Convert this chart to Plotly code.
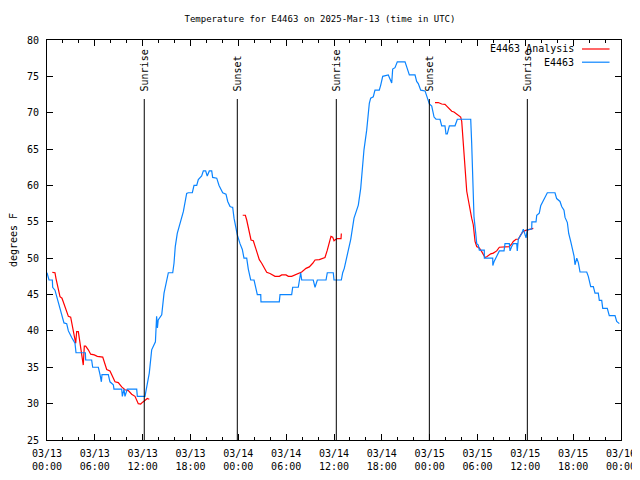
import pandas as pd
import plotly.graph_objects as go

START = pd.Timestamp("2025-03-13 00:00")

# Observed temperature E4463 (hours since 03/13 00:00 UTC, deg F)
obs_hours = [0.0, 0.25, 0.67, 0.71, 1.0, 1.84, 2.13, 2.47, 2.68, 3.1, 3.51, 3.64, 4.81, 4.85, 5.6, 5.73,
             6.44, 6.65, 6.82, 6.9, 7.69, 7.9, 8.32, 8.4, 9.37, 9.45, 9.66, 9.78, 10.07, 11.25, 11.33, 12.29,
             12.5, 12.83, 13.13, 13.42, 13.6, 13.75, 13.85, 13.95, 14.39, 14.68, 15.01, 15.22, 15.77, 15.93,
             16.09, 16.34, 17.1, 17.52, 17.72, 18.23, 18.44, 18.78, 18.98, 19.4, 19.61, 19.9, 20.1, 20.36,
             20.66, 20.78, 21.29, 21.58, 22.04, 22.45, 22.67, 22.96, 23.17, 23.29, 23.46, 23.71, 23.87, 24.21,
             24.5, 24.71, 25.05, 25.25, 25.55, 25.97, 26.22, 26.38, 26.81, 26.84, 29.14, 29.23, 30.69, 30.82,
             31.52, 31.65, 31.82, 31.95, 33.4, 33.62, 33.91, 35.0, 35.16, 35.91, 36.0, 36.92, 37.09, 37.29,
             37.51, 37.8, 38.1, 38.51, 38.76, 39.05, 39.35, 39.48, 39.76, 40.1, 40.43, 40.6, 40.93, 41.14,
             41.68, 41.86, 42.11, 42.81, 43.03, 43.24, 43.36, 43.65, 43.94, 44.91, 45.12, 45.45, 46.16, 46.37,
             46.57, 46.88, 47.42, 47.63, 47.96, 48.26, 48.55, 48.8, 49.3, 49.51, 49.92, 50.05, 50.21, 50.47,
             51.18, 51.47, 53.15, 53.27, 53.4, 53.56, 53.78, 53.9, 54.1, 54.23, 54.85, 54.86, 55.91, 55.92,
             56.07, 56.32, 56.49, 56.74, 57.33, 57.45, 57.99, 58.08, 58.29, 58.49, 58.92, 58.99, 59.12, 59.55,
             59.75, 59.96, 60.09, 60.25, 60.8, 60.82, 61.34, 61.43, 61.75, 61.93, 62.26, 62.76, 63.72, 63.93,
             64.35, 64.56, 64.85, 64.98, 65.27, 65.44, 65.69, 65.94, 66.11, 66.23, 66.45, 66.65, 66.86, 67.7,
             67.9, 68.2, 68.53, 68.74, 69.15, 69.28, 69.58, 69.71, 70.28, 70.53, 71.25, 71.46, 71.79]
obs_temp = [48, 47, 47, 46, 45.6, 42, 41.1, 41, 40, 39.1, 38.3, 37, 37, 36, 36, 35,
            35, 34, 33, 34, 34, 33, 32.6, 32, 32, 31, 32, 31, 32, 32, 31, 31,
            32.3, 34.2, 37.4, 38, 38.5, 42, 40.4, 41.5, 42.2, 45.2, 47, 48, 48, 49.3,
            51.6, 53.4, 56.4, 58.9, 59, 59, 60, 60, 60.8, 61.3, 62, 62, 61.3, 62,
            62, 61.1, 61, 60, 59, 58.8, 57.8, 57.1, 57, 57, 55.5, 54.1, 53.2, 52,
            51.2, 50, 50, 48.5, 47, 47, 46, 45, 45, 44, 44, 45, 45, 46,
            46, 47, 48, 47, 47, 46, 47, 47, 48, 48, 47, 47, 48, 48.6,
            49.8, 50.9, 52.6, 55.5, 56.3, 57.3, 59.6, 61.7, 64.9, 67.6, 71.3, 72, 72.2, 73.1,
            73.1, 73.8, 75, 75.2, 74.6, 74.1, 76, 76.2, 77, 77, 76.3, 75.2, 75.2, 74.3,
            74, 73.1, 73, 72.4, 71.2, 70.9, 69.4, 69.1, 69.1, 68.2, 68.2, 67.1, 67.1, 68.2,
            68.2, 69.1, 69.1, 65.8, 59.1, 55.7, 53.4, 52.0, 51.8, 51.1, 51.1, 50, 50, 49,
            49.5, 50, 50.5, 51, 51, 52, 52, 51, 51.6, 52, 52, 51, 52.6, 53.4,
            54, 53.4, 52.8, 53.9, 54, 55, 55, 55.9, 56.2, 57.2, 58, 59, 59, 58.2,
            57.8, 57.1, 56.6, 55.6, 54.9, 53.4, 52.3, 51.1, 50.3, 49.1, 50, 49.4, 48.1, 48.1,
            47.5, 46.1, 46.1, 45.2, 45.2, 44.2, 44.2, 43.1, 43.1, 42.1, 42.1, 41.3, 41]

# Analysis temperature (three segments, None = gap)
ana_hours = [0.67, 1.0, 1.13, 1.42, 1.63, 1.88, 2.13, 2.47, 2.68, 2.97, 3.14, 3.3, 3.43, 3.6, 3.72, 3.93,
             4.05, 4.23, 4.35, 4.48, 4.55, 4.68, 4.85, 5.18, 5.48, 5.93, 6.31, 6.99, 7.28, 7.49, 7.9, 8.24,
             8.53, 8.94, 9.37, 9.78, 10.2, 10.62, 11.04, 11.45, 11.75, 12.0, 12.29, 12.58, 12.83, 18.0,
             24.55, 24.88, 25.05, 25.25, 25.38, 25.59, 25.88, 26.09, 26.3, 26.63, 26.93, 27.35, 27.56, 27.97,
             28.39, 28.6, 29.14, 29.44, 29.98, 30.27, 30.69, 31.11, 31.52, 31.95, 32.49, 32.9, 33.33, 33.62,
             34.16, 34.87, 35.16, 35.41, 35.62, 35.84, 36.0, 36.25, 36.42, 36.88, 36.92, 42.0,
             48.67, 49.08, 49.51, 49.92, 50.14, 50.47, 50.77, 51.05, 51.39, 51.72, 51.89, 52.02, 52.15, 52.31,
             52.43, 52.65, 52.85, 53.06, 53.27, 53.47, 53.56, 53.69, 53.9, 54.23, 54.53, 54.73, 54.94, 55.16,
             55.66, 55.98, 56.41, 56.74, 57.74, 57.99, 58.29, 58.49, 58.83, 59.12, 59.42, 59.67, 59.96, 60.25,
             60.8, 61.0]
ana_temp = [48.06, 48, 47.2, 45.9, 44.7, 44.5, 43.7, 42.6, 42, 41.9, 40.8, 39.7, 39, 38.3, 39.9, 39.9,
            39, 37.7, 36.5, 35.8, 35.3, 37.9, 37.9, 37.4, 36.8, 36.7, 36.5, 36.4, 35.5, 34.7, 34.5, 33.7,
            33, 32.9, 32.3, 31.9, 31.8, 31.3, 31, 30, 29.95, 30.2, 30.4, 30.7, 30.6, None,
            55.9, 55.9, 55.25, 54.3, 53.4, 52.5, 52.4, 51.7, 50.9, 49.8, 49.3, 48.5, 48.06, 47.9,
            47.7, 47.5, 47.5, 47.7, 47.7, 47.5, 47.5, 47.7, 47.9, 48.1, 48.6, 48.8, 49.3, 49.75,
            49.8, 50.1, 51.1, 52.3, 53, 52.9, 52.4, 52.6, 52.7, 52.7, 53.4, None,
            71.4, 71.4, 71.2, 71.15, 70.9, 70.5, 70.2, 70.1, 69.8, 69.5, 69.4, 68.8, 66.7, 64.9,
            62.8, 59.2, 58, 56.6, 55.5, 54.6, 53.4, 52.3, 51.6, 51.4, 50.9, 50.4, 50.1, 50.2,
            50.6, 50.7, 51, 51.5, 51.5, 51.6, 51.95, 52.3, 52.6, 52.6, 53.2, 53.6, 53.8, 53.9,
            54, 54.1]

sun_labels = ["Sunrise", "Sunset", "Sunrise", "Sunset", "Sunrise"]
sun_hours = [12.2, 23.87, 36.29, 47.96, 60.25]

tick_hours = list(range(0, 73, 6))
y_ticks = list(range(25, 81, 5))

FONT = "DejaVu Sans Mono"
RED = "#ff0000"
BLUE = "#0a84ff"

# the page body adds an 8px margin, so the figure is 8px smaller than the window
FIG_W, FIG_H = 632, 472

obs_x = [START + pd.Timedelta(hours=h) for h in obs_hours]
ana_x = [START + pd.Timedelta(hours=h) if t is not None else None for h, t in zip(ana_hours, ana_temp)]

fig = go.Figure()
fig.add_trace(go.Scatter(x=ana_x, y=ana_temp, mode="lines", name="E4463 Analysis",
                         line=dict(color=RED, width=1.2), connectgaps=False, showlegend=False))
fig.add_trace(go.Scatter(x=obs_x, y=obs_temp, mode="lines", name="E4463",
                         line=dict(color=BLUE, width=1.2), showlegend=False))

# sunrise / sunset markers
for lab, h in zip(sun_labels, sun_hours):
    t = START + pd.Timedelta(hours=h)
    fig.add_shape(type="line", xref="x", yref="paper", x0=t, x1=t, y0=0, y1=0.8525,
                  line=dict(color="black", width=1))
    fig.add_annotation(x=t, y=0.867, xref="x", yref="paper", text=lab, textangle=-90,
                       showarrow=False, xanchor="center", yanchor="bottom",
                       font=dict(family=FONT, size=10, color="black"))

# legend (text on the left, sample line on the right, like the original)
legend_items = [("E4463 Analysis", RED, 0.9775), ("E4463", BLUE, 0.9445)]
for txt, col, yy in legend_items:
    fig.add_annotation(x=0.921, y=yy, xref="paper", yref="paper", text=txt, showarrow=False,
                       xanchor="right", yanchor="middle", font=dict(family=FONT, size=10, color="black"))
    fig.add_shape(type="line", xref="paper", yref="paper", x0=0.932, x1=0.98, y0=yy, y1=yy,
                  line=dict(color=col, width=1.2))

tick_vals = [START + pd.Timedelta(hours=h) for h in tick_hours]
tick_text = [(START + pd.Timedelta(hours=h)).strftime("%m/%d<br>%H:%M") for h in tick_hours]

fig.update_layout(
    width=FIG_W, height=FIG_H,
    margin=dict(l=39, r=19, t=32, b=40, pad=0, autoexpand=False),
    paper_bgcolor="white", plot_bgcolor="white",
    font=dict(family=FONT, size=10, color="black"),
    title=dict(text="Temperature for E4463 on 2025-Mar-13 (time in UTC)", x=312 / FIG_W, xref="container",
               xanchor="center", y=1 - 11 / FIG_H, yref="container", yanchor="middle",
               font=dict(family=FONT, size=9, color="black"), automargin=False),
    showlegend=False,
    xaxis=dict(type="date", range=[START, START + pd.Timedelta(hours=72)], automargin=False,
               tickmode="array", tickvals=tick_vals, ticktext=tick_text,
               ticks="inside", ticklen=6, tickcolor="black", tickwidth=1,
               minor=dict(dtick=2 * 3600 * 1000, tick0=START, ticks="inside", ticklen=3,
                          tickcolor="black", showgrid=False),
               showline=True, linecolor="black", linewidth=1, mirror="allticks",
               showgrid=False, zeroline=False, ticklabelstandoff=4,
               tickfont=dict(family=FONT, size=10, color="black")),
    yaxis=dict(range=[25, 80], tickmode="array", tickvals=y_ticks, automargin=False,
               ticks="inside", ticklen=6, tickcolor="black", tickwidth=1,
               showline=True, linecolor="black", linewidth=1, mirror="allticks",
               showgrid=False, zeroline=False, ticklabelstandoff=5,
               title=dict(text="degrees F", standoff=10, font=dict(family=FONT, size=10, color="black")),
               tickfont=dict(family=FONT, size=10, color="black")),
)

fig.write_html("out.html")
